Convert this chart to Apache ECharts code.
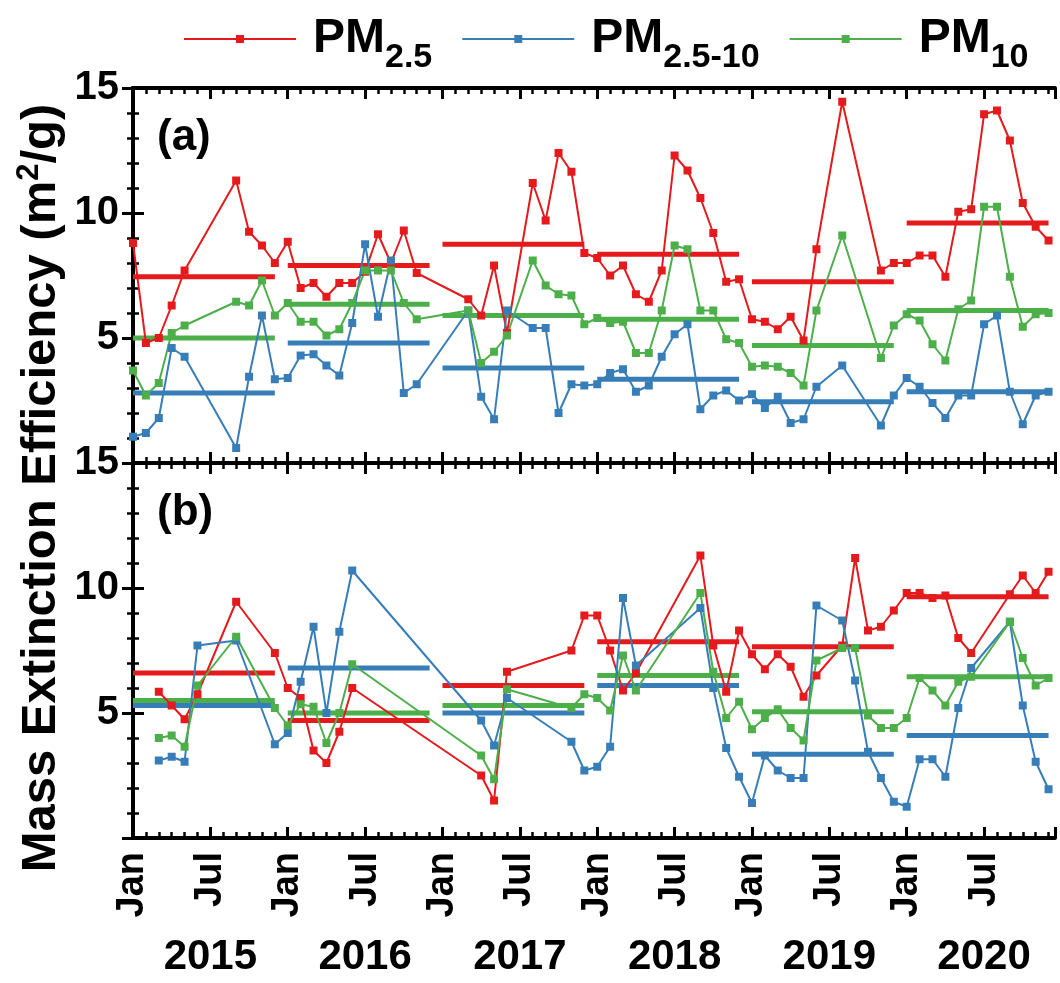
<!DOCTYPE html>
<html>
<head>
<meta charset="utf-8">
<script src="https://cdn.jsdelivr.net/npm/echarts@6/dist/echarts.min.js"></script>
<style>
html, body { margin: 0; padding: 0; background: #fff; }
#chart { width: 1060px; height: 983px; }
</style>
</head>
<body>
<div id="chart"></div>
<script>
// month index 0 = Jan 2015, null = no sample that month
var seriesNames = ['PM2.5', 'PM2.5-10', 'PM10'];
var colors = ['#E41A1C', '#377EB8', '#4DAF4A'];
var years = ['2015', '2016', '2017', '2018', '2019', '2020'];

// panel (a)
var aPM25 = [
  8.8, 4.8, 5.0, 6.3, 7.7, null, null, null, 11.3, 9.25, 8.7, 8.0,
  8.85, 7.0, 7.2, 6.65, 7.2, 7.2, 7.65, 9.15, 8.0, 9.3, 7.6, null,
  null, null, 6.55, 5.9, 7.9, 5.2, null, 11.2, 9.7, 12.4, 11.65, 8.4,
  8.2, 7.5, 7.9, 6.75, 6.45, 7.7, 12.3, 11.7, 10.6, 9.2, 7.25, 7.35,
  5.75, 5.65, 5.35, 5.85, 4.9, 8.55, null, 14.45, null, null, 7.7, 8.0,
  8.0, 8.3, 8.3, 7.45, 10.05, 10.15, 13.95, 14.1, 12.9, 10.4, 9.45, 8.9
];
var aPM2510 = [
  1.05, 1.2, 1.8, 4.6, 4.25, null, null, null, 0.6, 3.45, 5.9, 3.35,
  3.4, 4.3, 4.35, 3.9, 3.5, 5.6, 8.75, 5.85, 8.1, 2.8, 3.15, null,
  null, null, 6.1, 2.65, 1.75, 6.1, null, 5.4, 5.4, 2.0, 3.15, 3.1,
  3.15, 3.6, 3.75, 2.85, 3.1, 4.25, 5.15, 5.55, 2.15, 2.7, 2.9, 2.5,
  2.75, 2.2, 2.65, 1.6, 1.75, 3.05, null, 3.9, null, null, 1.5, 2.7,
  3.4, 3.05, 2.4, 1.8, 2.7, 2.7, 5.55, 5.9, 2.85, 1.55, 2.7, 2.85
];
var aPM10 = [
  3.7, 2.7, 3.2, 5.2, 5.5, null, null, null, 6.45, 6.3, 7.3, 5.9,
  6.4, 5.65, 5.65, 5.1, 5.35, 6.4, 7.7, 7.7, 7.7, 6.4, 5.75, null,
  null, null, 6.1, 4.0, 4.45, 5.1, null, 8.1, 7.1, 6.75, 6.7, 5.55,
  5.8, 5.6, 5.65, 4.4, 4.4, 6.1, 8.7, 8.55, 6.1, 6.1, 4.95, 4.8,
  3.85, 3.9, 3.85, 3.6, 3.1, 6.1, null, 9.1, null, null, 4.2, 5.5,
  5.95, 5.7, 4.75, 4.1, 6.15, 6.5, 10.25, 10.25, 7.45, 5.45, 5.95, 6.0
];
var aMeanPM25 = [7.45, 7.9, 8.75, 8.35, 7.25, 9.6];
var aMeanPM2510 = [2.8, 4.8, 3.8, 3.35, 2.45, 2.85];
var aMeanPM10 = [5.0, 6.35, 5.9, 5.75, 4.7, 6.1];

// panel (b)
var bPM25 = [
  null, null, 5.85, 5.3, 4.75, 5.75, null, null, 9.45, null, null, 7.4,
  6.0, 5.6, 3.5, 3.0, 4.25, 6.0, null, null, null, null, null, null,
  null, null, null, 2.5, 1.5, 6.65, null, null, null, null, 7.5, 8.9,
  8.9, 7.5, 5.9, 6.6, null, null, null, null, 11.3, 7.7, 5.85, 8.3,
  7.35, 6.75, 7.35, 6.85, 5.65, 6.5, null, 7.7, 11.2, 8.3, 8.45, 9.1,
  9.8, 9.8, 9.6, 9.7, 8.0, 7.4, null, null, 9.75, 10.5, 9.8, 10.65
];
var bPM2510 = [
  null, null, 3.1, 3.25, 3.05, 7.7, null, null, 7.9, null, null, 3.75,
  4.2, 6.25, 8.45, 5.0, 8.25, 10.7, null, null, null, null, null, null,
  null, null, null, 4.7, 3.7, 5.6, null, null, null, null, 3.85, 2.7,
  2.85, 3.65, 9.6, 6.9, null, null, null, null, 9.2, 6.0, 3.6, 2.45,
  1.4, 3.3, 2.7, 2.4, 2.4, 9.3, null, 8.7, 6.3, 3.45, 2.4, 1.45,
  1.25, 3.15, 3.15, 2.45, 5.2, 6.8, null, null, 8.65, 5.3, 3.05, 1.95
];
var bPM10 = [
  null, null, 4.0, 4.1, 3.65, 6.1, null, null, 8.05, null, null, 5.2,
  4.5, 5.35, 5.25, 3.8, 5.0, 6.95, null, null, null, null, null, null,
  null, null, null, 3.3, 2.35, 5.95, null, null, null, null, 5.2, 5.75,
  5.6, 5.1, 7.3, 5.9, null, null, null, null, 9.8, 6.65, 4.8, 5.45,
  4.35, 4.8, 5.15, 4.4, 3.9, 7.1, null, 7.6, 7.6, 4.9, 4.4, 4.4,
  4.8, 6.4, 5.9, 5.3, 6.25, 6.45, null, null, 8.65, 7.2, 6.1, 6.4
];
var bMeanPM25 = [6.6, 4.7, 6.1, 7.85, 7.65, 9.65];
var bMeanPM2510 = [5.3, 6.8, 5.0, 6.1, 3.35, 4.1];
var bMeanPM10 = [5.5, 5.0, 5.3, 6.5, 5.05, 6.45];

var FONT = '"Liberation Sans", Arial, sans-serif';
var X_MAX = 71.5;

function toPoints(vals) {
  var out = [];
  vals.forEach(function (v, i) { if (v !== null) out.push([i, v]); });
  return out;
}
// one flat segment per year, Jan..Dec
function toMeanSegments(means) {
  var out = [];
  means.forEach(function (v, i) {
    out.push([12 * i, v], [12 * i + 11, v], ['-', '-']);
  });
  return out;
}

function majorTick() { return { show: true, inside: true, length: 11, lineStyle: { color: '#000', width: 3 } }; }
function minorTick(n) { return { show: true, splitNumber: n, length: 6, lineStyle: { color: '#000', width: 2.5 } }; }

function xAx(grid, pos, showLabel) {
  return {
    type: 'value', gridIndex: grid, position: pos, min: 0, max: X_MAX, interval: 6,
    axisLine: { show: true, onZero: false, lineStyle: { color: '#000', width: 4 } },
    axisTick: majorTick(),
    minorTick: minorTick(6),
    splitLine: { show: false },
    axisLabel: showLabel ? {
      rotate: 90, margin: 14, color: '#000', fontSize: 38, fontWeight: 'bold', fontFamily: FONT,
      formatter: function (v) { return v % 12 === 0 ? 'Jan' : (v % 12 === 6 ? 'Jul' : ''); }
    } : { show: false }
  };
}
function yAx(grid, pos, showLabel) {
  return {
    type: 'value', gridIndex: grid, position: pos, min: 0, max: 15, interval: 5,
    axisLine: { show: true, lineStyle: { color: '#000', width: 4 } },
    axisTick: majorTick(),
    minorTick: minorTick(5),
    splitLine: { show: false },
    axisLabel: showLabel ? {
      margin: 14, color: '#000', fontSize: 40, fontWeight: 'bold', fontFamily: FONT,
      formatter: function (v) { return v === 0 ? '' : String(v); }
    } : { show: false }
  };
}

var panels = [
  { vals: [aPM25, aPM2510, aPM10], means: [aMeanPM25, aMeanPM2510, aMeanPM10] },
  { vals: [bPM25, bPM2510, bPM10], means: [bMeanPM25, bMeanPM2510, bMeanPM10] }
];

var series = [];
panels.forEach(function (p, pi) {
  for (var k = 0; k < 3; k++) {
    series.push({
      name: seriesNames[k] + ' mean', type: 'line', xAxisIndex: pi * 2, yAxisIndex: pi * 2,
      data: toMeanSegments(p.means[k]), showSymbol: false, symbol: 'none',
      lineStyle: { color: colors[k], width: 5 }, connectNulls: false, silent: true, z: 2
    });
  }
  for (var k2 = 0; k2 < 3; k2++) {
    series.push({
      name: seriesNames[k2], type: 'line', xAxisIndex: pi * 2, yAxisIndex: pi * 2,
      data: toPoints(p.vals[k2]), symbol: 'rect', symbolSize: 8,
      itemStyle: { color: colors[k2] }, lineStyle: { color: colors[k2], width: 2 }, z: 3
    });
  }
});

var chart = echarts.init(document.getElementById('chart'));
chart.setOption({
  animation: false,
  backgroundColor: '#fff',
  grid: [
    { left: 133, top: 88, width: 922, height: 375 },
    { left: 133, top: 463, width: 922, height: 375 }
  ],
  xAxis: [
    xAx(0, 'bottom', false),
    xAx(0, 'top', false),
    xAx(1, 'bottom', true),
    xAx(1, 'top', false),
    {
      type: 'value', gridIndex: 1, position: 'bottom', min: 0, max: X_MAX,
      axisLine: { show: false }, axisTick: { show: false }, splitLine: { show: false },
      axisLabel: {
        customValues: years.map(function (y, i) { return 12 * i + 6; }),
        formatter: function (v) { return years[(v - 6) / 12]; },
        margin: 98, color: '#000', fontSize: 42, fontWeight: 'bold', fontFamily: FONT
      }
    }
  ],
  yAxis: [
    yAx(0, 'left', true),
    yAx(0, 'right', false),
    yAx(1, 'left', true),
    yAx(1, 'right', false)
  ],
  legend: {
    data: seriesNames, left: 183, top: 3, padding: 0,
    itemWidth: 112, itemHeight: 10, itemGap: 29,
    formatter: function (name) { return '{m|PM}{s|' + name.slice(2) + '}'; },
    textStyle: {
      rich: {
        m: { fontSize: 48, fontWeight: 'bold', fontFamily: FONT, color: '#000', lineHeight: 56, padding: [0, 0, 0, 12] },
        s: { fontSize: 34, fontWeight: 'bold', fontFamily: FONT, color: '#000', lineHeight: 20, padding: [38, 0, 0, 0] }
      }
    }
  },
  graphic: [
    {
      type: 'text', x: 41, y: 488, rotation: Math.PI / 2,
      style: {
        text: '{t|Mass Extinction Efficiency (m}{p|2}{t|/g)}',
        align: 'center', verticalAlign: 'middle',
        rich: {
          t: { fontSize: 49, fontWeight: 'bold', fontFamily: FONT, fill: '#000', lineHeight: 58 },
          p: { fontSize: 31, fontWeight: 'bold', fontFamily: FONT, fill: '#000', lineHeight: 20, padding: [0, 0, 24, 0] }
        }
      }
    },
    { type: 'text', x: 157, y: 138, style: { text: '(a)', fontSize: 44, fontWeight: 'bold', fontFamily: FONT, fill: '#000', verticalAlign: 'middle' } },
    { type: 'text', x: 157, y: 513, style: { text: '(b)', fontSize: 44, fontWeight: 'bold', fontFamily: FONT, fill: '#000', verticalAlign: 'middle' } }
  ],
  series: series
});
</script>
</body>
</html>
